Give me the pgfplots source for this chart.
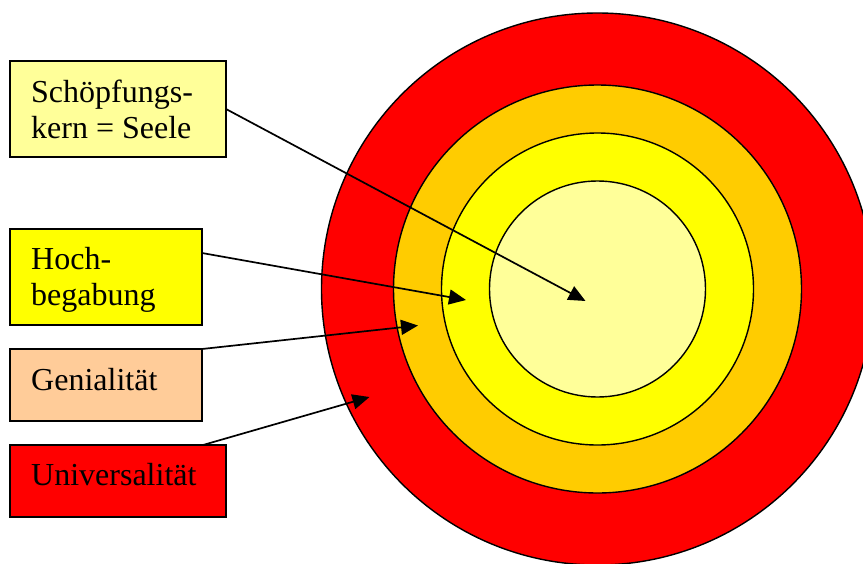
\documentclass[border=0pt]{standalone}
\usepackage{fontspec}
\setmainfont{Liberation Serif}
\usepackage{pgfplots}
\pgfplotsset{compat=1.18}
\usetikzlibrary{arrows.meta}
\definecolor{cRed}{HTML}{FF0000}
\definecolor{cOrange}{HTML}{FFCC00}
\definecolor{cYellow}{HTML}{FFFF00}
\definecolor{cLight}{HTML}{FFFF99}
\definecolor{cPeach}{HTML}{FFCC99}
\begin{document}
\begin{tikzpicture}
\begin{axis}[
  width=863pt, height=563pt, scale only axis,
  xmin=0, xmax=863, ymin=0, ymax=563, y dir=reverse,
  hide axis, clip=true, clip marker paths=true,
]
% concentric circles: centre (597.5,289), radii 276, 204, 156, 108
\addplot[only marks, mark=*, mark size=276pt, mark options={fill=cRed, draw=black, line width=1.4pt}] coordinates {(597.5,289)};
\addplot[only marks, mark=*, mark size=204pt, mark options={fill=cOrange, draw=black, line width=1.4pt}] coordinates {(597.5,289)};
\addplot[only marks, mark=*, mark size=156pt, mark options={fill=cYellow, draw=black, line width=1.4pt}] coordinates {(597.5,289)};
\addplot[only marks, mark=*, mark size=108pt, mark options={fill=cLight, draw=black, line width=1.4pt}] coordinates {(597.5,289)};
% boxes
\draw[fill=cLight, line width=1.4pt] (axis cs:10,61) rectangle (axis cs:226,157);
\draw[fill=cYellow, line width=1.4pt] (axis cs:10,229) rectangle (axis cs:202,325);
\draw[fill=cPeach, line width=1.4pt] (axis cs:10,349) rectangle (axis cs:202,421);
\draw[fill=cRed, line width=1.4pt] (axis cs:10,445) rectangle (axis cs:226,517);
% labels
\node[anchor=base west, inner sep=0pt, font=\fontsize{32}{36}\selectfont] at (axis cs:31,102) {Schöpfungs-};
\node[anchor=base west, inner sep=0pt, font=\fontsize{32}{36}\selectfont] at (axis cs:31,138) {kern = Seele};
\node[anchor=base west, inner sep=0pt, font=\fontsize{32}{36}\selectfont] at (axis cs:31,269) {Hoch-};
\node[anchor=base west, inner sep=0pt, font=\fontsize{32}{36}\selectfont] at (axis cs:31,305.5) {begabung};
\node[anchor=base west, inner sep=0pt, font=\fontsize{32}{36}\selectfont] at (axis cs:31,390) {Genialität};
\node[anchor=base west, inner sep=0pt, font=\fontsize{32}{36}\selectfont] at (axis cs:31,485) {Universalität};
% arrows
\addplot[black, line width=1.7pt, -{Triangle[length=17pt,width=15pt]}] coordinates {(226,109) (585.5,301)};
\addplot[black, line width=1.7pt, -{Triangle[length=17pt,width=15pt]}] coordinates {(202,253) (466,300)};
\addplot[black, line width=1.7pt, -{Triangle[length=17pt,width=15pt]}] coordinates {(202,349) (418,325.5)};
\addplot[black, line width=1.7pt, -{Triangle[length=17pt,width=15pt]}] coordinates {(203,445) (369.5,397)};
\end{axis}
\pgfresetboundingbox
\path (current axis.south west) rectangle (current axis.north east);
\end{tikzpicture}
\end{document}
